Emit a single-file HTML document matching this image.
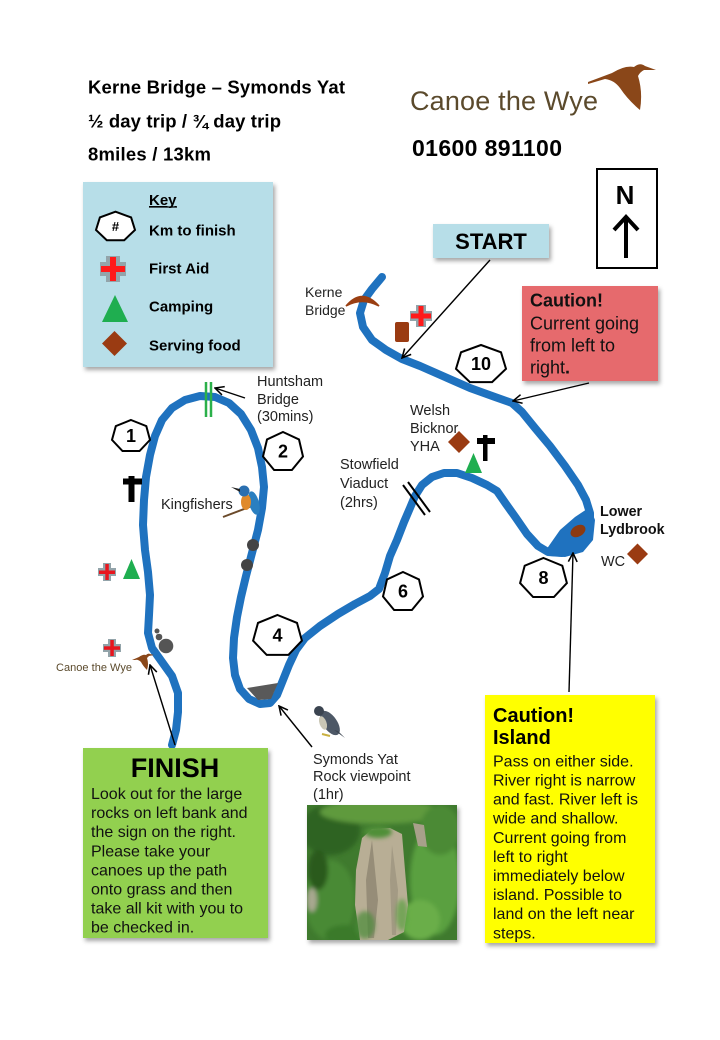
<!DOCTYPE html>
<html><head><meta charset="utf-8"><style>
html,body{margin:0;padding:0;background:#fff;}
body{width:720px;height:1040px;overflow:hidden;}
svg{display:block;}
text{font-family:"Liberation Sans",Arial,sans-serif;}
</style></head><body>
<svg width="720" height="1040" viewBox="0 0 720 1040" xmlns="http://www.w3.org/2000/svg">
<defs>
<filter id="sh" x="-10%" y="-10%" width="130%" height="130%"><feDropShadow dx="2" dy="3" stdDeviation="2" flood-color="#000" flood-opacity="0.35"/></filter>
<filter id="bl" x="-20%" y="-20%" width="140%" height="140%"><feGaussianBlur stdDeviation="2"/></filter>
<marker id="ah" viewBox="0 0 10 10" refX="9" refY="5" markerWidth="11" markerHeight="11" markerUnits="userSpaceOnUse" orient="auto"><path d="M1,1 L9,5 L1,9" fill="none" stroke="#000" stroke-width="1.4"/></marker>
<clipPath id="pc"><rect x="307" y="805" width="150" height="135"/></clipPath>
</defs>
<rect width="720" height="1040" fill="#fff"/>

<!-- header -->
<text x="88" y="93.5" font-size="18.5" font-weight="bold" fill="#000" textLength="257">Kerne Bridge – Symonds Yat</text>
<text x="88" y="127.5" font-size="18.5" font-weight="bold" fill="#000" textLength="193">½ day trip / ¾ day trip</text>
<text x="88" y="160.5" font-size="18.5" font-weight="bold" fill="#000" textLength="123">8miles / 13km</text>
<text x="410" y="110" font-size="27" fill="#5b4a2c" textLength="188">Canoe the Wye</text>
<path d="M588,82 L612,73 Q625,65 634,67 Q640,62 645,66 L656,70 L644,70 Q640,72 638,76 Q643,92 640,110 Q628,100 620,88 Q614,80 605,79 L588,84 Z" fill="#8a4719"/>
<text x="412" y="156" font-size="23" font-weight="bold" fill="#000" textLength="150">01600 891100</text>

<!-- north -->
<rect x="597" y="169" width="60" height="99" fill="#fff" stroke="#000" stroke-width="2"/>
<text x="625" y="204" font-size="26" font-weight="bold" text-anchor="middle" fill="#000">N</text>
<line x1="626" y1="258" x2="626" y2="219" stroke="#000" stroke-width="4"/>
<path d="M614,230 L626,217 L638,230" fill="none" stroke="#000" stroke-width="4"/>

<!-- key -->
<rect x="83" y="182" width="190" height="185" fill="#b7dee8" filter="url(#sh)"/>
<text x="149" y="205" font-size="15" font-weight="bold" fill="#000" text-decoration="underline">Key</text>
<line x1="149" y1="207" x2="177" y2="207" stroke="#000" stroke-width="1.2"/>
<polygon points="115.5,211.7 131.1,217.4 135,230 124.2,240.2 106.8,240.2 96,230 99.9,217.4" fill="#fff" stroke="#000" stroke-width="2"/>
<text x="115.5" y="231" font-size="13" font-weight="bold" text-anchor="middle" fill="#000">#</text>
<text x="149" y="235.5" font-size="15" font-weight="bold" fill="#000">Km to finish</text>
<g><rect x="100" y="262" width="26" height="14" fill="#93a4aa"/><rect x="106" y="256" width="14" height="26" fill="#93a4aa"/><rect x="101" y="266" width="24" height="6" fill="#ff1a1a"/><rect x="110" y="257" width="6" height="24" fill="#ff1a1a"/></g>
<text x="149" y="273.5" font-size="15" font-weight="bold" fill="#000">First Aid</text>
<polygon points="115,295 128,322 102,322" fill="#1fae50"/>
<text x="149" y="311.5" font-size="15" font-weight="bold" fill="#000">Camping</text>
<polygon points="114.5,331 127,343.5 114.5,356 102,343.5" fill="#9a3b12"/>
<text x="149" y="350.5" font-size="15" font-weight="bold" fill="#000">Serving food</text>

<!-- start -->
<rect x="433" y="224" width="116" height="34" fill="#b7dee8" filter="url(#sh)"/>
<text x="491" y="249" font-size="22" font-weight="bold" text-anchor="middle" fill="#000">START</text>

<!-- caution red -->
<rect x="522" y="286" width="136" height="95" fill="#e66b6d" filter="url(#sh)"/>
<text x="530" y="306.5" font-size="18" font-weight="bold" fill="#111">Caution!</text>
<text x="530" y="329.5" font-size="18" fill="#111">Current going</text>
<text x="530" y="351.5" font-size="18" fill="#111">from left to</text>
<text x="530" y="373.5" font-size="18" fill="#111">right<tspan font-weight="bold">.</tspan></text>

<!-- river -->
<path d="M382,277 L372,289 L364,300 L360,313 L363,327 L372,340 L386,350 L402,359 L420,366 L445,377 L470,388 L495,397 L512,403 L522,412 L535,428 L550,446 L565,466 L578,485 L586,500 L590,513 L590,525 L586,538 L576,548 L562,553 L548,552 L538,546 L527,534 L516,518 L506,504 L497,491 L487,485 L472,478 L457,473 L444,473 L432,477 L422,485 L415,496 L410,508 L404,522 L397,540 L390,556 L385,573 L379,589 L370,596 L355,604 L338,614 L320,626 L305,638 L296,650 L289,665 L283,680 L277,695 L270,703 L260,704 L249,699 L240,689 L235,675 L233,658 L234,638 L237,617 L241,597 L246,576 L252,553 L258,530 L262,508 L264,487 L262,467 L258,448 L251,430 L241,414 L229,403 L215,397 L200,396 L185,400 L172,408 L162,420 L155,436 L150,455 L146,477 L144,500 L143,525 L145,550 L148,572 L150,595 L149,615 L148,633 L152,648 L162,662 L172,676 L178,693 L178,712 L176,730 L172,745" fill="none" stroke="#1f72bf" stroke-width="8" stroke-linejoin="round" stroke-linecap="round"/>
<path d="M546,550 L560,530 L575,517 L590,507 L595,520 L593,540 L583,552 L565,557 L550,556 Z" fill="#1f72bf"/>
<ellipse cx="578" cy="531" rx="8" ry="5.5" transform="rotate(-30 578 531)" fill="#8b3a12"/>
<polygon points="247,688 278,683 271,699 258,700" fill="#595959"/>

<!-- kerne bridge -->
<path d="M346,306 Q362,287 379,306 Q362,297 346,306 Z" fill="#9a3f12" stroke="#9a3f12" stroke-width="1.5"/>
<text x="305" y="297" font-size="14" fill="#222">Kerne</text>
<text x="305" y="315" font-size="14" fill="#222">Bridge</text>
<rect x="395" y="322" width="14" height="20" rx="2" fill="#9a3b12"/>
<g><rect x="410" y="311" width="22" height="10" fill="#93a4aa"/><rect x="416" y="305" width="10" height="22" fill="#93a4aa"/><rect x="411" y="313.5" width="20" height="5" fill="#ff1a1a"/><rect x="418.5" y="306" width="5" height="20" fill="#ff1a1a"/></g>

<!-- huntsham -->
<line x1="206" y1="382" x2="206" y2="417" stroke="#2bb04a" stroke-width="2.5"/>
<line x1="211" y1="382" x2="211" y2="417" stroke="#2bb04a" stroke-width="2.5"/>
<text x="257" y="386" font-size="14.5" fill="#222">Huntsham</text>
<text x="257" y="404" font-size="14.5" fill="#222">Bridge</text>
<text x="257" y="421" font-size="14.5" fill="#222">(30mins)</text>

<!-- left bank -->
<rect x="128.5" y="476" width="6" height="26" fill="#000"/>
<rect x="123" y="478.5" width="19" height="6" fill="#000"/>
<g><rect x="98" y="568" width="18" height="8" fill="#93a4aa"/><rect x="103" y="563" width="8" height="18" fill="#93a4aa"/><rect x="99" y="570.5" width="16" height="3.5" fill="#e8161e"/><rect x="105.3" y="564" width="3.5" height="16" fill="#e8161e"/></g>
<polygon points="131.5,559 140,579 123,579" fill="#1fae50"/>
<text x="161" y="509" font-size="14.5" fill="#222">Kingfishers</text>
<!-- kingfisher -->
<line x1="223" y1="517" x2="252" y2="506" stroke="#6b4a2a" stroke-width="2"/>
<ellipse cx="254" cy="503" rx="5" ry="12" transform="rotate(-15 254 503)" fill="#2a7fc0"/>
<ellipse cx="246" cy="502" rx="5" ry="8" fill="#e08a2a"/>
<circle cx="244" cy="491" r="5.5" fill="#2a6fb0"/>
<path d="M240,489 L231,487 L240,492 Z" fill="#222"/>
<circle cx="253" cy="545" r="6" fill="#444"/>
<circle cx="247" cy="565" r="6" fill="#444"/>

<!-- finish area -->
<circle cx="157" cy="631" r="2.5" fill="#555"/>
<circle cx="159" cy="637" r="3.3" fill="#555"/>
<circle cx="166" cy="646" r="7.3" fill="#555"/>
<g><rect x="103" y="644" width="18" height="8" fill="#93a4aa"/><rect x="108" y="639" width="8" height="18" fill="#93a4aa"/><rect x="104" y="646.3" width="16" height="3.5" fill="#e8161e"/><rect x="110.3" y="640" width="3.5" height="16" fill="#e8161e"/></g>
<text x="56" y="671" font-size="11" fill="#5b4a2c" textLength="76">Canoe the Wye</text>
<path d="M132,660 L139,657 Q143,654 146,655 Q148,653 150,654 L154,655 L149,656 Q148,657 147,658 Q149,664 147,670 Q143,666 141,662 Q138,659 135,660 Z" fill="#8a4719"/>

<!-- welsh bicknor -->
<text x="410" y="415" font-size="14.5" fill="#222">Welsh</text>
<text x="410" y="433" font-size="14.5" fill="#222">Bicknor</text>
<text x="410" y="451" font-size="14.5" fill="#222">YHA</text>
<polygon points="459,431 470,442 459,453 448,442" fill="#9a3b12"/>
<rect x="483" y="435" width="4.5" height="26" fill="#000"/>
<rect x="477" y="438" width="18" height="6" fill="#000"/>
<polygon points="473.5,453 482,473 465,473" fill="#1fae50"/>

<!-- stowfield -->
<text x="340" y="469" font-size="14.5" fill="#222">Stowfield</text>
<text x="340" y="488" font-size="14.5" fill="#222">Viaduct</text>
<text x="340" y="507" font-size="14.5" fill="#222">(2hrs)</text>
<line x1="403" y1="485" x2="425" y2="515" stroke="#000" stroke-width="2"/>
<line x1="408" y1="482" x2="430" y2="512" stroke="#000" stroke-width="2"/>

<!-- lower lydbrook -->
<text x="600" y="516" font-size="14.3" font-weight="bold" fill="#111">Lower</text>
<text x="600" y="534" font-size="14.3" font-weight="bold" fill="#111">Lydbrook</text>
<text x="601" y="566" font-size="14.5" fill="#222">WC</text>
<polygon points="637.5,543.5 648,554 637.5,564.5 627,554" fill="#9a3b12"/>

<!-- distance markers -->
<g fill="#fff" stroke="#000" stroke-width="2">
<polygon points="481,345 501,352.3 506,368.8 492.1,382.1 469.9,382.1 456,368.8 461,352.3"/>
<polygon points="131,420 146.3,426.1 150,439.9 139.5,451 122.5,451 112,439.9 115.8,426.1"/>
<polygon points="283,432 299,439.5 303,456.5 291.9,470 274.1,470 263,456.5 267,439.5"/>
<polygon points="277.5,615 297,622.9 301.9,640.7 288.4,654.9 266.7,654.9 253.1,640.7 258,622.9"/>
<polygon points="403,572 419,579.5 423,596.5 411.9,610 394.1,610 383,596.5 387,579.5"/>
<polygon points="543.5,558 562.3,565.7 566.9,583.1 553.9,597 533.1,597 520.1,583.1 524.7,565.7"/>
</g>
<g font-size="18" font-weight="bold" text-anchor="middle" fill="#000">
<text x="481" y="370">10</text>
<text x="131" y="442">1</text>
<text x="283" y="457.5">2</text>
<text x="277.5" y="641.5">4</text>
<text x="403" y="597.5">6</text>
<text x="543.5" y="584">8</text>
</g>

<!-- arrows -->
<g stroke="#000" stroke-width="1.4" fill="none" marker-end="url(#ah)">
<path d="M490,260 L402,358"/>
<path d="M589,383 L513,401"/>
<path d="M245,398 L215,388"/>
<path d="M175,745 L150,665"/>
<path d="M312,747 L279,706"/>
<path d="M569,692 L573,553"/>
</g>

<!-- falcon -->
<ellipse cx="330" cy="723" rx="7" ry="14" transform="rotate(-35 330 723)" fill="#4d5866"/>
<ellipse cx="323" cy="723" rx="3.5" ry="7" transform="rotate(-20 323 723)" fill="#c9c6b5"/>
<circle cx="319" cy="711" r="5" fill="#3b4450"/>
<path d="M334,730 L345,738 L338,731 Z" fill="#3b4450"/>
<line x1="322" y1="734" x2="330" y2="736" stroke="#c9b040" stroke-width="2"/>

<!-- symonds yat -->
<text x="313" y="764" font-size="14.5" fill="#222">Symonds Yat</text>
<text x="313" y="781" font-size="14.5" fill="#222">Rock viewpoint</text>
<text x="313" y="799" font-size="14.5" fill="#222">(1hr)</text>

<!-- photo -->
<rect x="307" y="805" width="150" height="135" fill="#3f7a2e" filter="url(#sh)"/>
<g clip-path="url(#pc)">
<rect x="307" y="805" width="150" height="135" fill="#3f7a2e"/>
<g filter="url(#bl)">
<ellipse cx="330" cy="830" rx="30" ry="25" fill="#2f6424"/>
<ellipse cx="330" cy="900" rx="25" ry="40" fill="#4a8a36"/>
<ellipse cx="318" cy="870" rx="10" ry="20" fill="#2a5a1f"/>
<ellipse cx="380" cy="812" rx="60" ry="12" fill="#5e9a3e"/>
<ellipse cx="435" cy="880" rx="25" ry="55" fill="#5aa040"/>
<ellipse cx="440" cy="830" rx="20" ry="25" fill="#4b8a34"/>
<ellipse cx="420" cy="920" rx="20" ry="20" fill="#6aae48"/>
<ellipse cx="345" cy="935" rx="20" ry="10" fill="#3a7a2a"/>
<ellipse cx="312" cy="900" rx="5" ry="12" fill="#a8a890"/>
</g>
<path d="M362,838 L372,829 L390,828 L402,834 L405,870 L408,905 L404,932 L388,940 L360,940 L355,905 L356,870 Z" fill="#b8ae95"/>
<path d="M372,840 L378,900 L374,938 L368,938 L366,880 Z" fill="#968d78"/>
<path d="M392,845 L398,890 L396,935 L392,935 L390,880 Z" fill="#a39a84"/>
<path d="M413,823 L424,825 L427,847 L418,846 Z" fill="#a8a08a"/>
<g filter="url(#bl)">
<ellipse cx="378" cy="832" rx="14" ry="6" fill="#4f8f38"/>
<ellipse cx="365" cy="925" rx="10" ry="14" fill="#4a8a36" opacity="0.7"/>
<ellipse cx="402" cy="915" rx="6" ry="16" fill="#5aa040" opacity="0.7"/>
</g>
</g>

<!-- finish box -->
<rect x="83" y="748" width="185" height="190" fill="#92d050" filter="url(#sh)"/>
<text x="175" y="777" font-size="27" font-weight="bold" text-anchor="middle" fill="#000">FINISH</text>
<g font-size="16" fill="#111">
<text x="91" y="799">Look out for the large</text>
<text x="91" y="818.1">rocks on left bank and</text>
<text x="91" y="837.2">the sign on the right.</text>
<text x="91" y="856.3">Please take your</text>
<text x="91" y="875.4">canoes up the path</text>
<text x="91" y="894.5">onto grass and then</text>
<text x="91" y="913.6">take all kit with you to</text>
<text x="91" y="932.7">be checked in.</text>
</g>

<!-- caution island -->
<rect x="485" y="695" width="170" height="248" fill="#ffff00" filter="url(#sh)"/>
<text x="493" y="722" font-size="20" font-weight="bold" fill="#000">Caution!</text>
<text x="493" y="744" font-size="20" font-weight="bold" fill="#000">Island</text>
<g font-size="16" fill="#111">
<text x="493" y="766.4">Pass on either side.</text>
<text x="493" y="785.5">River right is narrow</text>
<text x="493" y="804.6">and fast. River left is</text>
<text x="493" y="823.7">wide and shallow.</text>
<text x="493" y="842.8">Current going from</text>
<text x="493" y="861.9">left to right</text>
<text x="493" y="881">immediately below</text>
<text x="493" y="900.1">island. Possible to</text>
<text x="493" y="919.2">land on the left near</text>
<text x="493" y="938.3">steps.</text>
</g>
</svg>
</body></html>
